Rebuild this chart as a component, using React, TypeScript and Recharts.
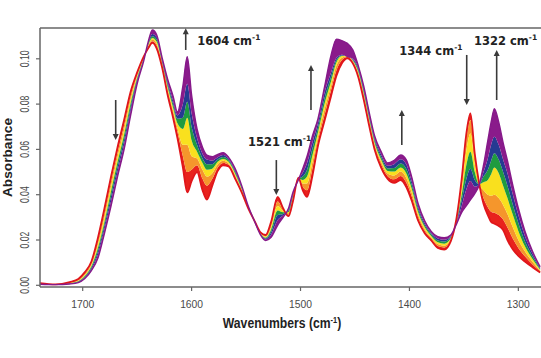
import React from 'react';
import { ComposedChart, Area, Line, XAxis, YAxis, ReferenceLine, ReferenceDot, Label } from 'recharts';

// Wavenumbers (cm-1), descending
const wavenumbers = [
  1740, 1725, 1712, 1704, 1698, 1692, 1686, 1680, 1674, 1668,
  1662, 1656, 1650, 1644, 1640, 1636, 1632, 1627, 1622, 1617,
  1613, 1608, 1604, 1600, 1595, 1590, 1586, 1581, 1576, 1571,
  1566, 1560, 1554, 1548, 1542, 1537, 1532, 1527, 1521, 1516,
  1511, 1507, 1502, 1498, 1494, 1489, 1484, 1478, 1472, 1467,
  1462, 1457, 1452, 1447, 1442, 1437, 1432, 1426, 1420, 1414,
  1408, 1403, 1398, 1392, 1386, 1380, 1374, 1368, 1362, 1357,
  1352, 1348, 1344, 1340, 1336, 1332, 1328, 1325, 1322, 1318,
  1314, 1310, 1305, 1300, 1294, 1287, 1280,
];

// Spectra from first (red) to last (purple)
const s0 = [
  .0010, .0004, .0014, .0028, .0058, .0105, .0210, .0340, .0480, .0610,
  .0730, .0855, .0940, .1010, .1045, .1070, .1045, .0960, .0840, .0740,
  .0650, .0520, .0410, .0460, .0500, .0420, .0378, .0440, .0505, .0530,
  .0525, .0470, .0410, .0340, .0282, .0235, .0222, .0280, .0390, .0340,
  .0305, .0370, .0475, .0420, .0390, .0485, .0615, .0725, .0835, .0925,
  .0980, .1002, .0980, .0920, .0820, .0705, .0600, .0520, .0470, .0452,
  .0465, .0435, .0375, .0285, .0230, .0198, .0165, .0158, .0195, .0290,
  .0470, .0660, .0759, .0580, .0450, .0360, .0310, .0280, .0272, .0262,
  .0244, .0200, .0158, .0130, .0105, .0080, .0057,
];
const s1 = [
  .0009, .0004, .0012, .0024, .0052, .0097, .0195, .0320, .0458, .0588,
  .0708, .0838, .0932, .1007, .1050, .1078, .1055, .0967, .0852, .0755,
  .0675, .0570, .0500, .0510, .0530, .0470, .0440, .0470, .0520, .0540,
  .0532, .0478, .0415, .0342, .0282, .0233, .0218, .0268, .0370, .0335,
  .0312, .0377, .0475, .0435, .0420, .0515, .0635, .0750, .0860, .0950,
  .0995, .1008, .0985, .0928, .0830, .0715, .0610, .0532, .0482, .0468,
  .0483, .0455, .0393, .0297, .0239, .0205, .0173, .0167, .0200, .0286,
  .0450, .0635, .0730, .0565, .0450, .0385, .0345, .0325, .0320, .0310,
  .0290, .0255, .0205, .0165, .0128, .0092, .0061,
];
const s2 = [
  .0008, .0004, .0011, .0021, .0046, .0090, .0180, .0300, .0436, .0566,
  .0686, .0820, .0923, .1003, .1055, .1085, .1065, .0974, .0863, .0770,
  .0695, .0620, .0620, .0570, .0560, .0510, .0480, .0495, .0535, .0550,
  .0538, .0485, .0420, .0344, .0281, .0232, .0214, .0256, .0350, .0328,
  .0318, .0384, .0474, .0450, .0450, .0545, .0655, .0775, .0880, .0970,
  .1005, .1012, .0990, .0936, .0840, .0725, .0620, .0544, .0494, .0485,
  .0502, .0475, .0410, .0310, .0248, .0211, .0182, .0175, .0204, .0283,
  .0425, .0585, .0670, .0535, .0448, .0420, .0400, .0395, .0400, .0385,
  .0355, .0315, .0255, .0200, .0150, .0104, .0065,
];
const s3 = [
  .0007, .0003, .0009, .0018, .0041, .0083, .0165, .0280, .0414, .0544,
  .0664, .0803, .0915, .1000, .1060, .1092, .1075, .0981, .0875, .0785,
  .0715, .0690, .0740, .0640, .0590, .0540, .0510, .0515, .0545, .0558,
  .0545, .0493, .0425, .0346, .0281, .0230, .0210, .0245, .0330, .0322,
  .0324, .0390, .0472, .0465, .0480, .0575, .0675, .0800, .0900, .0985,
  .1012, .1012, .0993, .0944, .0850, .0735, .0630, .0555, .0505, .0502,
  .0520, .0495, .0428, .0322, .0257, .0218, .0190, .0184, .0209, .0279,
  .0400, .0525, .0590, .0500, .0447, .0455, .0465, .0490, .0520, .0495,
  .0440, .0385, .0310, .0240, .0172, .0116, .0069,
];
const s4 = [
  .0006, .0003, .0008, .0016, .0036, .0076, .0150, .0265, .0392, .0522,
  .0642, .0785, .0907, .0997, .1065, .1100, .1085, .0988, .0887, .0800,
  .0735, .0740, .0810, .0700, .0620, .0560, .0535, .0535, .0555, .0566,
  .0552, .0500, .0430, .0347, .0280, .0228, .0206, .0234, .0310, .0315,
  .0330, .0397, .0470, .0480, .0510, .0605, .0695, .0825, .0920, .0995,
  .1015, .1010, .0996, .0952, .0860, .0745, .0640, .0566, .0516, .0518,
  .0538, .0515, .0445, .0335, .0266, .0225, .0198, .0193, .0213, .0275,
  .0375, .0465, .0515, .0465, .0446, .0480, .0510, .0550, .0583, .0555,
  .0500, .0440, .0355, .0275, .0195, .0128, .0073,
];
const s5 = [
  .0005, .0003, .0007, .0014, .0033, .0070, .0135, .0248, .0370, .0500,
  .0620, .0768, .0898, .0993, .1068, .1110, .1095, .0995, .0898, .0815,
  .0750, .0800, .0890, .0760, .0650, .0580, .0555, .0550, .0565, .0575,
  .0558, .0508, .0435, .0349, .0280, .0227, .0202, .0223, .0288, .0308,
  .0335, .0403, .0468, .0497, .0540, .0632, .0715, .0850, .0940, .1005,
  .1018, .1008, .1000, .0960, .0870, .0755, .0650, .0578, .0528, .0535,
  .0556, .0535, .0462, .0347, .0275, .0231, .0207, .0201, .0218, .0272,
  .0350, .0420, .0460, .0435, .0445, .0500, .0560, .0620, .0656, .0620,
  .0555, .0495, .0400, .0310, .0218, .0140, .0078,
];
const s6 = [
  .0005, .0003, .0006, .0012, .0030, .0065, .0120, .0230, .0350, .0480,
  .0600, .0750, .0890, .0990, .1072, .1127, .1105, .1003, .0910, .0835,
  .0765, .0880, .1009, .0840, .0690, .0610, .0575, .0568, .0578, .0585,
  .0565, .0515, .0440, .0350, .0280, .0225, .0198, .0212, .0265, .0300,
  .0340, .0410, .0465, .0515, .0570, .0660, .0735, .0875, .1015, .1087,
  .1080, .1068, .1040, .0970, .0880, .0765, .0660, .0590, .0540, .0552,
  .0575, .0555, .0480, .0360, .0285, .0238, .0215, .0210, .0222, .0268,
  .0322, .0350, .0377, .0405, .0443, .0530, .0640, .0720, .0780, .0720,
  .0630, .0550, .0440, .0340, .0240, .0150, .0082,
];

const xTicks = [1700, 1600, 1500, 1400, 1300];
const yTicks = [0, 0.02, 0.04, 0.06, 0.08, 0.1];

const peakNames = ['1604', '1521', '1344', '1322'];
const peakLabelWn = [1594.8, 1548.2, 1409.3, 1340.7];
const peakLabelAbs = [0.1077, 0.0634, 0.1034, 0.1079];

const arrowWn = [1669.7, 1605.4, 1522.2, 1490.4, 1407.0, 1347.4, 1319.9];
const arrowFrom = [0.0818, 0.1039, 0.0553, 0.0774, 0.0619, 0.1017, 0.0818];
const arrowTo = [0.0642, 0.1135, 0.0399, 0.0973, 0.0774, 0.0796, 0.1039];

const X_MIN = 1279.2;
const X_MAX = 1739.2;
const Y_MIN = -0.00075;
const Y_MAX = 0.1136;

const series = [s0, s1, s2, s3, s4, s5, s6];
const bandColors = ['#e8221d', '#f5962c', '#f9e01e', '#1f9b40', '#263a92', '#8a1b8b'];

const data = wavenumbers.map((w, i) => {
  const row: any = { w };
  series.forEach((s, k) => { row['s' + k] = s[i]; });
  for (let k = 1; k < series.length; k++) row['b' + k] = [series[k - 1][i], series[k][i]];
  return row;
});

const AXIS = '#666';
const TXT = '#4a4a4a';
const SANS = "'Liberation Sans', Arial, sans-serif";

const XTick = (p: any) => (
  <g transform={`translate(${p.x} ${p.y}) scale(0.89 1)`}>
    <text x={0} y={8.3} textAnchor="middle" fontSize={11.6} fontFamily={SANS} fill={TXT}>
      {p.payload.value}
    </text>
  </g>
);

const YTick = (p: any) => (
  <g transform={`translate(${p.x} ${p.y}) rotate(-90) scale(0.72 1)`}>
    <text x={0} y={0} textAnchor="middle" dominantBaseline="central" fontSize={12} fontFamily={SANS} fill={TXT}>
      {Number(p.payload.value).toFixed(2)}
    </text>
  </g>
);

const XTitle = () => (
  <g transform="translate(282 328) scale(0.87 1)">
    <text x={0} y={0} textAnchor="middle" fontSize={14} fontWeight="bold" fontFamily={SANS} fill="#222">
      Wavenumbers (cm<tspan fontSize={8.5} dy={-5}>-1</tspan><tspan dy={5}>)</tspan>
    </text>
  </g>
);

const YTitle = () => (
  <text transform="translate(7.5 157.5) rotate(-90)" x={0} y={0} textAnchor="middle" dominantBaseline="central"
    fontSize={13.7} fontWeight="bold" fontFamily={SANS} fill="#222">
    Absorbance
  </text>
);

const ArrowShape = (p: any) => {
  const { x1, y1, x2, y2 } = p;
  const dir = y2 < y1 ? -1 : 1;
  const hl = 6;
  const hw = 3;
  return (
    <g>
      <line x1={x1} y1={y1} x2={x2} y2={y2 - dir * hl * 0.7} stroke="#3a3a3a" strokeWidth={1.6} />
      <polygon points={`${x2},${y2} ${x2 - hw},${y2 - dir * hl} ${x2 + hw},${y2 - dir * hl}`} fill="#3a3a3a" />
    </g>
  );
};

const makePeakLabel = (name: string) => (p: any) => (
  <text x={p.cx} y={p.cy} dominantBaseline="central" fontSize={11.5} fontWeight="bold"
    fontFamily="'DejaVu Sans', Verdana, sans-serif" fill="#222">
    {name} cm<tspan fontSize={7.5} dy={-4}>-1</tspan>
  </text>
);

export default function App() {
  return (
    <div style={{ position: 'absolute', left: 0, top: 0, width: 541, height: 358, background: '#fff' }}>
      <ComposedChart width={541} height={358} data={data} margin={{ top: 28, right: 0, bottom: 41, left: 0 }}>
        <XAxis dataKey="w" type="number" domain={[X_MIN, X_MAX]} reversed allowDataOverflow ticks={xTicks}
          interval={0} height={30} tickSize={4} tickMargin={9} tick={<XTick />}
          tickLine={{ stroke: AXIS, strokeWidth: 1.2 }} axisLine={{ stroke: AXIS, strokeWidth: 1.5 }}>
          <Label content={XTitle} />
        </XAxis>
        <YAxis type="number" domain={[Y_MIN, Y_MAX]} allowDataOverflow ticks={yTicks} interval={0}
          width={40} tickSize={4} tickMargin={11} tick={<YTick />}
          tickLine={{ stroke: AXIS, strokeWidth: 1.2 }} axisLine={{ stroke: AXIS, strokeWidth: 1.5 }}>
          <Label content={YTitle} />
        </YAxis>
        <ReferenceLine y={Y_MAX} stroke={AXIS} strokeWidth={1.5} ifOverflow="visible" />
        {bandColors.map((c, k) => (
          <Area key={'b' + k} type="monotone" dataKey={'b' + (k + 1)} stroke="none" fill={c} fillOpacity={1}
            isAnimationActive={false} dot={false} activeDot={false} />
        ))}
        <Line type="monotone" dataKey="s0" stroke="#e0161b" strokeWidth={1.8} dot={false} activeDot={false} isAnimationActive={false} />
        <Line type="monotone" dataKey="s6" stroke="#86198a" strokeWidth={1.4} dot={false} activeDot={false} isAnimationActive={false} />
        {arrowWn.map((w, i) => (
          <ReferenceLine key={'a' + i} segment={[{ x: w, y: arrowFrom[i] }, { x: w, y: arrowTo[i] }]}
            ifOverflow="visible" shape={ArrowShape} />
        ))}
        {peakNames.map((n, i) => (
          <ReferenceDot key={'p' + i} x={peakLabelWn[i]} y={peakLabelAbs[i]} r={1} ifOverflow="visible"
            shape={makePeakLabel(n)} />
        ))}
      </ComposedChart>
    </div>
  );
}
